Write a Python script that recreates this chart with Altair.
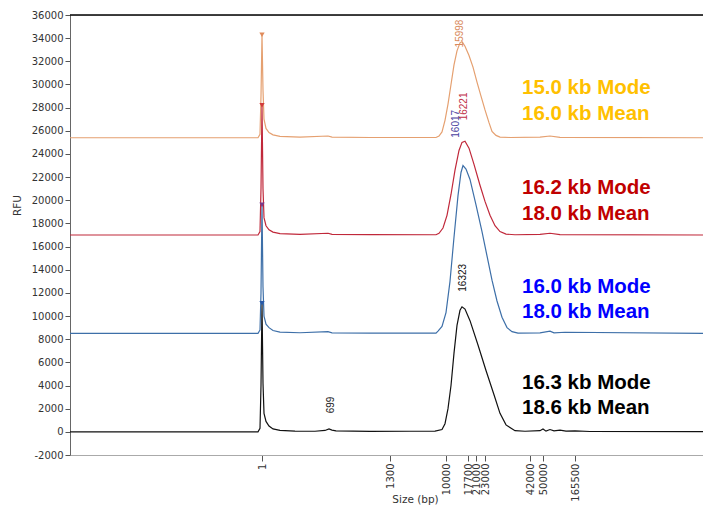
import altair as alt
import pandas as pd

# ---- data (x = migration position, y = RFU) ----
black_x = [0, 150, 188, 190, 191, 192, 193, 194, 196, 199, 203, 210, 225, 245, 255, 259, 262, 266, 300, 340, 365, 372, 375, 378, 381, 384, 387, 390, 392, 395, 400, 408, 416, 424, 430, 436, 445, 455, 470, 473, 476, 480, 484, 490, 496, 505, 520, 633]
black_y = [0, 0, 0, 300, 4000, 11100, 4200, 1600, 900, 500, 250, 120, 60, 50, 120, 250, 150, 80, 40, 50, 60, 200, 700, 2000, 4000, 6800, 9200, 10500, 10800, 10600, 9600, 7500, 5300, 3200, 1600, 600, 100, 50, 100, 250, 60, 200, 80, 150, 60, 90, 30, 20]

blue_x = [0, 188, 190, 191, 192, 193, 194, 196, 199, 203, 210, 230, 258, 262, 300, 366, 368, 372, 376, 380, 384, 388, 391, 393, 396, 400, 406, 412, 417, 422, 427, 432, 437, 442, 448, 470, 480, 484, 495, 633]
blue_y = [8500, 8500, 8800, 12000, 19600, 12500, 10000, 9300, 9000, 8750, 8620, 8560, 8650, 8550, 8520, 8520, 8700, 9100, 10300, 13000, 16800, 20400, 22400, 23000, 22700, 21800, 19600, 17300, 15200, 13100, 11300, 9900, 9000, 8650, 8520, 8550, 8700, 8550, 8600, 8500]

red_x = [0, 188, 190, 191, 192, 193, 194, 196, 199, 203, 210, 230, 258, 262, 300, 366, 369, 373, 377, 381, 385, 389, 392, 395, 399, 404, 410, 415, 420, 425, 430, 436, 445, 470, 480, 490, 633]
red_y = [17000, 17000, 17300, 21000, 28200, 21000, 18500, 17800, 17450, 17250, 17120, 17060, 17150, 17050, 17030, 17020, 17150, 17600, 18700, 20500, 22600, 24300, 25000, 25100, 24500, 23100, 21300, 19900, 18700, 17800, 17300, 17080, 17020, 17050, 17150, 17030, 17000]

orange_x = [0, 188, 190, 191, 192, 193, 194, 196, 199, 203, 210, 230, 258, 262, 300, 366, 369, 372, 375, 378, 381, 384, 387, 390, 392, 395, 399, 403, 407, 411, 415, 419, 422, 426, 430, 440, 470, 480, 490, 633]
orange_y = [25400, 25400, 25700, 29000, 34300, 29500, 27000, 26200, 25850, 25650, 25520, 25460, 25550, 25450, 25420, 25420, 25550, 25900, 26900, 28300, 30000, 31700, 32900, 33600, 33700, 33300, 32500, 31500, 30200, 29000, 27800, 26700, 25950, 25600, 25450, 25420, 25450, 25550, 25430, 25400]

marker_x = [192, 192, 192, 192]
marker_y = [34300, 28200, 19600, 11100]
marker_col = ["#e08a5a", "#d23a3a", "#7a3c8c", "#2a5aa8"]

peak_lbl = ["15998", "16221", "16017", "16323", "699"]
peak_x = [390, 394, 386, 393, 261]
peak_y = [33200, 26900, 25400, 12100, 1600]
peak_col = ["#d98a5c", "#c0304a", "#4a3fa0", "#111111", "#222222"]

ann_text = ["15.0 kb Mode", "16.0 kb Mean", "16.2 kb Mode", "18.0 kb Mean",
            "16.0 kb Mode", "18.0 kb Mean", "16.3 kb Mode", "18.6 kb Mean"]
ann_y = [29700, 27450, 21100, 18850, 12500, 10350, 4200, 2050]
ann_col = ["#FFC000", "#FFC000", "#C00000", "#C00000", "#0000FF", "#0000FF", "#000000", "#000000"]
ann_x = 452

tick_pos = [192, 320, 376, 398, 406, 415, 460, 473, 505]
tick_lbl = ["1", "1300", "10000", "17700", "21000", "23000", "42000", "50000", "165500"]

y_ticks = list(range(-2000, 36001, 2000))

# ---- chart ----
xs = alt.Scale(domain=[0, 633], nice=False, zero=False)
ys = alt.Scale(domain=[-2000, 36000], nice=False, zero=False)

label_expr = " : ".join(f"datum.value == {p} ? '{l}'" for p, l in zip(tick_pos, tick_lbl)) + " : ''"

x_axis = alt.Axis(values=tick_pos, labelExpr=label_expr, labelAngle=270, labelFont="DejaVu Sans",
                  labelFontSize=10, labelColor="#333333", tickSize=6, tickColor="#555555",
                  domainColor="#aaaaaa", grid=False, title="Size (bp)", titleFont="DejaVu Sans",
                  titleFontSize=10.5, titleFontWeight="normal", titleColor="#333333",
                  titleX=345, titleY=44, titleBaseline="middle", labelPadding=2, labelOverlap=False,
                  labelFlush=False)
y_axis = alt.Axis(values=y_ticks, labelExpr="'' + datum.value", labelOverlap=False, labelFont="DejaVu Sans",
                  labelFontSize=10, labelColor="#333333", labelFlush=False,
                  tickSize=5, tickColor="#555555", domainColor="#666666", grid=False, title="RFU",
                  titleFont="DejaVu Sans", titleFontSize=10.5, titleFontWeight="normal",
                  titleColor="#333333", titleX=-48, titleY=190, labelPadding=2)

enc_x = alt.X("pos:Q", scale=xs, axis=x_axis)
enc_y = alt.Y("rfu:Q", scale=ys, axis=y_axis)


def trace(xv, yv, color):
    df = pd.DataFrame({"pos": xv, "rfu": yv})
    return alt.Chart(df).mark_line(color=color, strokeWidth=1.2, clip=True).encode(x=enc_x, y=enc_y)


black = trace(black_x, black_y, "#111111")
blue = trace(blue_x, blue_y, "#3d6fa8")
orange = trace(orange_x, orange_y, "#e5a070")
red = trace(red_x, red_y, "#c0283a")

top_line = alt.Chart(pd.DataFrame({"rfu": [36000]})).mark_rule(color="#000000", strokeWidth=1.5).encode(
    y=enc_y)

markers = alt.Chart(pd.DataFrame({"pos": marker_x, "rfu": marker_y, "c": marker_col})).mark_point(
    shape="triangle-down", filled=True, size=28, opacity=1).encode(
    x=enc_x, y=enc_y, color=alt.Color("c:N", scale=None))

peaks = alt.Chart(pd.DataFrame({"pos": peak_x, "rfu": peak_y, "t": peak_lbl, "c": peak_col})).mark_text(
    angle=270, align="left", baseline="middle", font="Liberation Sans", fontSize=10).encode(
    x=enc_x, y=enc_y, text="t:N", color=alt.Color("c:N", scale=None))

ann = alt.Chart(pd.DataFrame({"pos": [ann_x] * len(ann_text), "rfu": ann_y, "t": ann_text, "c": ann_col})).mark_text(
    align="left", baseline="middle", font="Liberation Sans", fontSize=20.5, fontWeight="bold").encode(
    x=enc_x, y=enc_y, text="t:N", color=alt.Color("c:N", scale=None))

chart = alt.layer(black, blue, orange, red, top_line, markers, peaks, ann).properties(
    width=633, height=440,
    autosize=alt.AutoSizeParams(type="none"),
    padding={"left": 70, "top": 15, "right": 0, "bottom": 52},
).configure_view(stroke=None).configure_axis(labelOverlap=False).configure(background="white")

chart.save("out.html", embed_options={"renderer": "svg", "actions": False})
